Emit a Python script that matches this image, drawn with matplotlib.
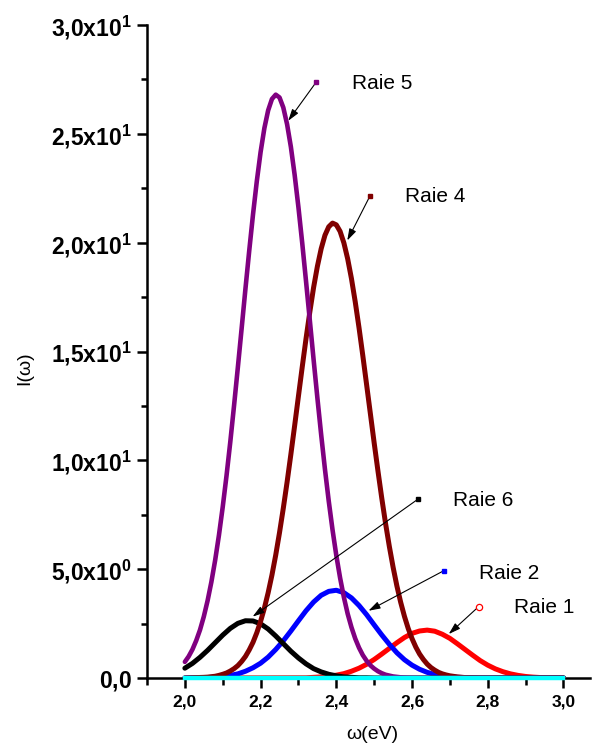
import matplotlib
matplotlib.use("Agg")
import matplotlib.pyplot as plt
from matplotlib.ticker import MultipleLocator, FuncFormatter

plt.rcParams['font.family'] = ['Liberation Sans', 'DejaVu Sans']
plt.rcParams['mathtext.fontset'] = 'custom'
plt.rcParams['mathtext.rm'] = 'Liberation Sans'
plt.rcParams['mathtext.bf'] = 'Liberation Sans:bold'

# Raie 5 (purple), read every 0.01 eV
w5 = [2.00, 2.01, 2.02, 2.03, 2.04, 2.05, 2.06, 2.07, 2.08, 2.09,
      2.10, 2.11, 2.12, 2.13, 2.14, 2.15, 2.16, 2.17, 2.18, 2.19,
      2.20, 2.21, 2.22, 2.23, 2.24, 2.25, 2.26, 2.27, 2.28, 2.29,
      2.30, 2.31, 2.32, 2.33, 2.34, 2.35, 2.36, 2.37, 2.38, 2.39,
      2.40, 2.41, 2.42, 2.43, 2.44, 2.45, 2.46, 2.47, 2.48, 2.49,
      2.50, 2.51, 2.52, 2.53, 2.54, 2.55, 2.56, 2.57, 2.58, 2.59,
      2.60, 2.70, 3.00]
raie5 = [0.74, 0.99, 1.31, 1.72, 2.21, 2.82, 3.55, 4.41, 5.41, 6.56,
         7.86, 9.29, 10.85, 12.53, 14.28, 16.07, 17.88, 19.63, 21.30, 22.82,
         24.16, 25.26, 26.08, 26.60, 26.80, 26.67, 26.21, 25.44, 24.40, 23.11,
         21.62, 19.98, 18.23, 16.44, 14.63, 12.87, 11.18, 9.59, 8.13, 6.81,
         5.63, 4.60, 3.71, 2.95, 2.33, 1.81, 1.39, 1.05, 0.79, 0.58,
         0.43, 0.31, 0.22, 0.15, 0.11, 0.07, 0.05, 0.03, 0.02, 0.015,
         0.01, 0.0, 0.0]

# Raie 4 (dark red)
w4 = [2.00, 2.05, 2.06, 2.07, 2.08, 2.09,
      2.10, 2.11, 2.12, 2.13, 2.14, 2.15, 2.16, 2.17, 2.18, 2.19,
      2.20, 2.21, 2.22, 2.23, 2.24, 2.25, 2.26, 2.27, 2.28, 2.29,
      2.30, 2.31, 2.32, 2.33, 2.34, 2.35, 2.36, 2.37, 2.38, 2.39,
      2.40, 2.41, 2.42, 2.43, 2.44, 2.45, 2.46, 2.47, 2.48, 2.49,
      2.50, 2.51, 2.52, 2.53, 2.54, 2.55, 2.56, 2.57, 2.58, 2.59,
      2.60, 2.61, 2.62, 2.63, 2.64, 2.65, 2.66, 2.67, 2.68, 2.69,
      2.70, 2.72, 2.74, 2.76, 2.80, 3.00]
raie4 = [0.00, 0.03, 0.04, 0.06, 0.08, 0.12,
         0.17, 0.23, 0.32, 0.43, 0.57, 0.76, 0.99, 1.29, 1.64, 2.08,
         2.60, 3.21, 3.92, 4.73, 5.65, 6.68, 7.80, 9.00, 10.28, 11.60,
         12.95, 14.29, 15.59, 16.81, 17.94, 18.91, 19.72, 20.34, 20.73, 20.90,
         20.82, 20.52, 19.99, 19.26, 18.35, 17.28, 16.09, 14.81, 13.48, 12.14,
         10.80, 9.51, 8.27, 7.11, 6.05, 5.09, 4.23, 3.48, 2.83, 2.27,
         1.81, 1.42, 1.10, 0.85, 0.64, 0.48, 0.36, 0.26, 0.19, 0.14,
         0.10, 0.05, 0.02, 0.01, 0.00, 0.00]

# Raie 2 (blue), every 0.02 eV
w2 = [2.00, 2.02, 2.04, 2.06, 2.08, 2.10, 2.12, 2.14, 2.16, 2.18,
      2.20, 2.22, 2.24, 2.26, 2.28, 2.30, 2.32, 2.34, 2.36, 2.38,
      2.40, 2.42, 2.44, 2.46, 2.48, 2.50, 2.52, 2.54, 2.56, 2.58,
      2.60, 2.62, 2.64, 2.66, 2.68, 2.70, 2.72, 2.74, 2.76, 2.78,
      2.80, 3.00]
raie2 = [0.00, 0.01, 0.01, 0.02, 0.04, 0.07, 0.12, 0.19, 0.31, 0.47,
         0.68, 0.96, 1.31, 1.71, 2.16, 2.63, 3.09, 3.49, 3.80, 3.98,
         4.03, 3.92, 3.68, 3.33, 2.91, 2.44, 1.98, 1.55, 1.16, 0.84,
         0.59, 0.40, 0.26, 0.16, 0.10, 0.06, 0.03, 0.02, 0.01, 0.00,
         0.00, 0.00]

# Raie 1 (red)
w1 = [2.00, 2.30, 2.32, 2.34, 2.36, 2.38, 2.40, 2.42, 2.44, 2.46, 2.48,
      2.50, 2.52, 2.54, 2.56, 2.58, 2.60, 2.62, 2.64, 2.66, 2.68,
      2.70, 2.72, 2.74, 2.76, 2.78, 2.80, 2.82, 2.84, 2.86, 2.88,
      2.90, 2.92, 2.94, 2.96, 2.98, 3.00]
raie1 = [0.00, 0.01, 0.01, 0.03, 0.05, 0.08, 0.13, 0.20, 0.31, 0.45, 0.63,
         0.85, 1.10, 1.36, 1.62, 1.86, 2.05, 2.16, 2.20, 2.15, 2.01,
         1.82, 1.57, 1.31, 1.05, 0.80, 0.59, 0.42, 0.29, 0.19, 0.12,
         0.07, 0.04, 0.02, 0.01, 0.01, 0.00]

# Raie 6 (black)
w6 = [2.00, 2.02, 2.04, 2.06, 2.08, 2.10, 2.12, 2.14, 2.16, 2.18,
      2.20, 2.22, 2.24, 2.26, 2.28, 2.30, 2.32, 2.34, 2.36, 2.38,
      2.40, 2.42, 2.44, 2.46, 2.48, 2.50, 3.00]
raie6 = [0.45, 0.67, 0.95, 1.27, 1.62, 1.97, 2.28, 2.51, 2.63, 2.62,
         2.49, 2.25, 1.93, 1.58, 1.23, 0.92, 0.65, 0.43, 0.28, 0.17,
         0.10, 0.05, 0.03, 0.01, 0.01, 0.00, 0.00]

# Raie 3 (cyan) stays on the baseline
w3 = [2.00, 3.00]
raie3 = [0.0, 0.0]

# label text, marker position, arrow tip, text position
labels = ['Raie 5', 'Raie 4', 'Raie 6', 'Raie 2', 'Raie 1']
label_colors = ['#800080', '#800000', 'black', '#0000ff', '#ff0000']
marker_xy = [(2.347, 27.38), (2.489, 22.15), (2.616, 8.22), (2.684, 4.93), (2.776, 3.28)]
tip_xy = [(2.273, 25.6), (2.429, 20.1), (2.179, 2.82), (2.485, 3.09), (2.697, 2.02)]
text_xy = [(2.441, 27.3), (2.582, 22.1), (2.708, 8.14), (2.776, 4.81), (2.870, 3.25)]


def ytick_fmt(v, pos):
    if v == 0:
        return r'$\mathbf{0{,}0}$'
    exp = 0 if v < 10 else 1
    mant = v / 10 ** exp
    s = ('%.1f' % mant).replace('.', '{,}')
    return r'$\mathbf{%sx10^{%d}}$' % (s, exp)


fig = plt.figure(figsize=(5.93, 7.49), dpi=100)
ax = fig.add_axes([0.2479, 0.0948, 0.747, 0.8718])

lw = 3.6
ax.plot(w1, raie1, color='#ff0000', lw=lw, zorder=2, solid_capstyle='round')
ax.plot(w2, raie2, color='#0000ff', lw=lw, zorder=3, solid_capstyle='round')
ax.plot(w6, raie6, color='black', lw=lw, zorder=4, solid_capstyle='round')
ax.plot(w4, raie4, color='#800000', lw=lw, zorder=5, solid_capstyle='round')
ax.plot(w5, raie5, color='#800080', lw=3.3, zorder=6, solid_capstyle='round')
ax.plot(w3, raie3, color='#00ffff', lw=3.2, zorder=7, clip_on=False)

for lab, col, m, t, tx in zip(labels, label_colors, marker_xy, tip_xy, text_xy):
    ax.annotate('', xy=t, xytext=m,
                arrowprops=dict(arrowstyle='-|>,head_length=0.7,head_width=0.22',
                                color='black', lw=0.8, mutation_scale=10,
                                shrinkA=0, shrinkB=0), zorder=8)
    if lab == 'Raie 1':
        ax.plot(*m, marker='o', ms=4.5, mfc='white', mec=col, mew=0.9, zorder=9)
    else:
        ax.plot(*m, marker='s', ms=3.5, color=col, zorder=9)
    ax.text(tx[0], tx[1], lab, fontsize=15, va='center', ha='left')

ax.set_xlim(1.9, 3.07)
ax.set_ylim(0, 30)
ax.spines['top'].set_visible(False)
ax.spines['right'].set_visible(False)
for sp in ('left', 'bottom'):
    ax.spines[sp].set_linewidth(1.8)

ax.xaxis.set_major_locator(MultipleLocator(0.2))
ax.xaxis.set_minor_locator(MultipleLocator(0.1))
ax.yaxis.set_major_locator(MultipleLocator(5))
ax.yaxis.set_minor_locator(MultipleLocator(2.5))
ax.xaxis.set_major_formatter(FuncFormatter(lambda v, p: ('%.1f' % v).replace('.', ',')))
ax.yaxis.set_major_formatter(FuncFormatter(ytick_fmt))

ax.tick_params(axis='x', which='major', length=7, width=1.8, pad=5, labelsize=12.5)
ax.tick_params(axis='x', which='minor', length=5, width=1.8)
ax.tick_params(axis='y', which='major', length=7, width=1.8, pad=4, labelsize=16.5)
ax.tick_params(axis='y', which='minor', length=4, width=1.8)
for lbl in ax.get_xticklabels():
    lbl.set_fontweight('bold')

ax.set_xlabel('ω(eV)', fontsize=14)
ax.xaxis.set_label_coords(0.509, -0.073)
ax.set_ylabel('I(ω)', fontsize=14)
ax.yaxis.set_label_coords(-0.257, 0.475)

fig.savefig('out.png', dpi=100)
